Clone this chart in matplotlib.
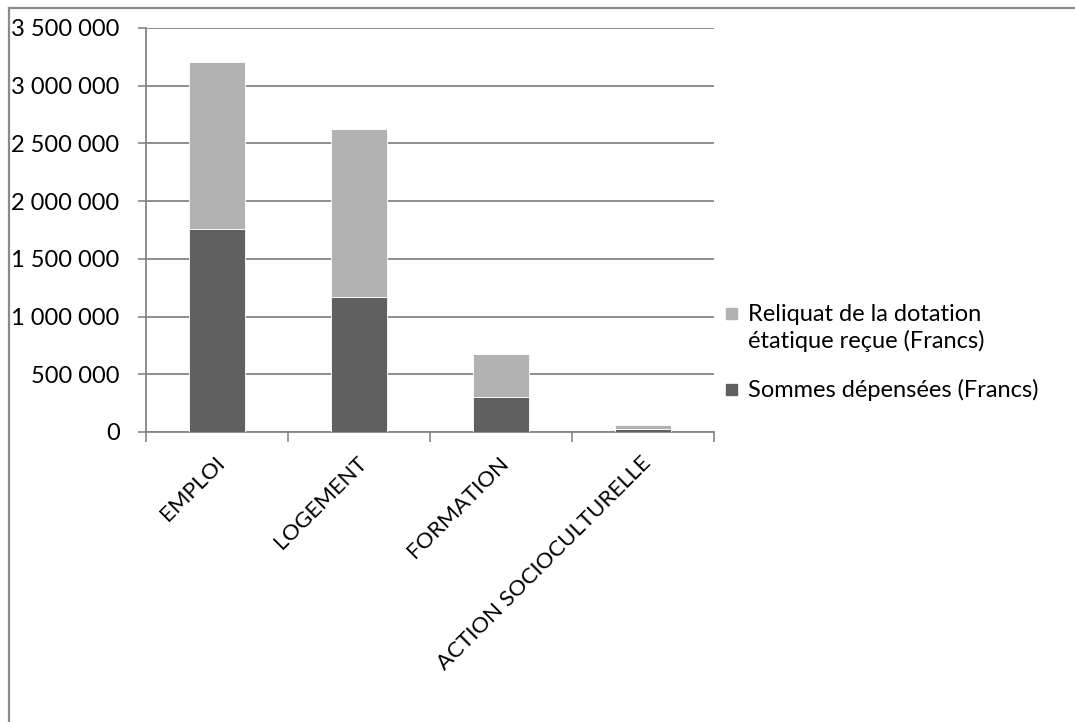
import matplotlib
matplotlib.use('Agg')
import matplotlib.pyplot as plt
import matplotlib.transforms as mtransforms
from matplotlib.patches import Rectangle
from matplotlib.lines import Line2D
import numpy as np

plt.rcParams['font.family'] = ['Lato', 'DejaVu Sans']

# donnees
categories = ['EMPLOI', 'LOGEMENT', 'FORMATION', 'ACTION SOCIOCULTURELLE']
depensees = [1760000, 1172000, 306000, 23000]
reliquat = [1442000, 1453000, 366000, 40000]
yticks = [0, 500000, 1000000, 1500000, 2000000, 2500000, 3000000, 3500000]
ytick_labels = ['0', '500 000', '1 000 000', '1 500 000', '2 000 000',
                '2 500 000', '3 000 000', '3 500 000']
lab_dep = 'Sommes dépensées (Francs)'
lab_rel = 'Reliquat de la dotation\nétatique reçue (Francs)'

c_dark = '#606060'
c_light = '#b2b2b2'
c_axis = '#868686'
fs = 17

W, H = 1075, 722
fig = plt.figure(figsize=(W/100, H/100), dpi=100)
ax = fig.add_axes([146/W, 1-432/H, (714-146)/W, (432-28)/H])

x = np.arange(len(categories))
ax.bar(x, depensees, 0.4, color=c_dark, edgecolor='white', linewidth=0.6, zorder=3)
ax.bar(x, reliquat, 0.4, bottom=depensees, color=c_light, edgecolor='white',
       linewidth=0.6, zorder=3)

ax.set_xlim(-0.5, len(categories) - 0.5)
ax.set_ylim(0, 3500000)
ax.set_yticks(yticks)
ax.set_yticklabels(ytick_labels, fontsize=fs)
ax.yaxis.grid(True, color=c_axis, linewidth=1.3, zorder=0)
ax.set_axisbelow(True)
ax.tick_params(axis='y', length=6, width=1.2, color=c_axis, pad=13)

# ticks aux limites des categories, etiquettes au centre
ax.set_xticks(np.arange(len(categories) + 1) - 0.5)
ax.set_xticklabels([])
ax.tick_params(axis='x', which='major', length=7, width=1.2, color=c_axis)
ax.set_xticks(x, minor=True)
ax.set_xticklabels(categories, minor=True, fontsize=16, rotation=45,
                   ha='right', va='baseline', rotation_mode='anchor')
ax.tick_params(axis='x', which='minor', length=0, pad=23)
off = mtransforms.ScaledTranslation(0.09, 0, fig.dpi_scale_trans)
for lab in ax.get_xticklabels(minor=True):
    lab.set_transform(lab.get_transform() + off)

for s in ['top', 'right']:
    ax.spines[s].set_visible(False)
for s in ['left', 'bottom']:
    ax.spines[s].set_color(c_axis)
    ax.spines[s].set_linewidth(1.3)

# legende
fig.add_artist(Rectangle((726/W, 1-319/H), 11/W, 11/H, color=c_light,
                         transform=fig.transFigure))
fig.text(748/W, 1-328/H, lab_rel, fontsize=fs, va='center', ha='left',
         linespacing=1.32)
fig.add_artist(Rectangle((726/W, 1-395/H), 11/W, 11/H, color=c_dark,
                         transform=fig.transFigure))
fig.text(748/W, 1-390/H, lab_dep, fontsize=fs, va='center', ha='left')

# cadre exterieur
fig.add_artist(Line2D([8.5/W, 8.5/W], [0, 1-7.5/H], color='#8a8a8a',
                      linewidth=1.6, transform=fig.transFigure))
fig.add_artist(Line2D([8.5/W, 1], [1-7.5/H, 1-7.5/H], color='#8a8a8a',
                      linewidth=1.6, transform=fig.transFigure))

fig.savefig('out.png', dpi=100)
